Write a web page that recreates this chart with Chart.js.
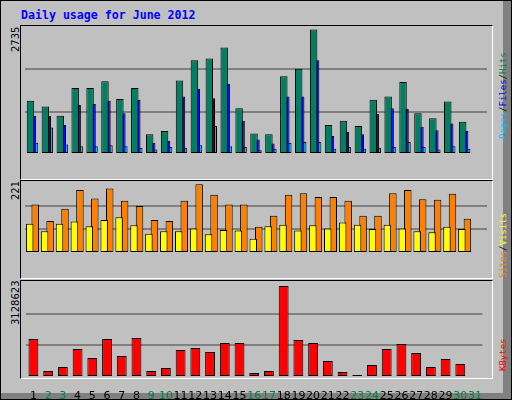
<!DOCTYPE html>
<html><head><meta charset="utf-8">
<script src="https://cdn.jsdelivr.net/npm/chart.js@4/dist/chart.umd.min.js"></script>
<style>
html,body{margin:0;padding:0;background:#c0c0c0;}
#wrap{position:absolute;left:0;top:0;width:510px;height:398px;border:1px solid #000;background:#c0c0c0;overflow:hidden;}
#shR{position:absolute;left:502px;top:0;width:8px;height:398px;background:#808080;}
#shB{position:absolute;left:0;top:392px;width:510px;height:6px;background:#808080;}
.panel{position:absolute;left:19px;width:471px;border-top:1px solid #000;border-left:1px solid #000;border-right:1px solid #fff;border-bottom:1px solid #fff;}
canvas{position:absolute;}
.t{position:absolute;font-family:"DejaVu Sans Mono",monospace;font-size:9px;line-height:10px;white-space:nowrap;transform-origin:0 0;transform:rotate(-90deg);}
.n{font-family:"DejaVu Sans",sans-serif;font-size:10px;line-height:11px;color:#000;}
#title{position:absolute;left:20px;top:7px;font-family:"DejaVu Sans Mono",monospace;font-weight:bold;font-size:11.6px;color:#0000ff;}
</style></head><body>
<div id="wrap">
<div id="shR"></div><div id="shB"></div>
<div id="title">Daily usage for June 2012</div>
<div class="panel" style="top:24px;height:153px"></div>
<div class="panel" style="top:179px;height:97px"></div>
<div class="panel" style="top:279px;height:97px"></div>
<canvas id="c1" style="left:24px;top:26px;width:462px;height:151px"></canvas>
<canvas id="c2" style="left:24px;top:181px;width:462px;height:95px"></canvas>
<canvas id="c3" style="left:24px;top:281px;width:462px;height:119px"></canvas>
<div class="t n" style="left:9px;top:51px">2735</div>
<div class="t n" style="left:9px;top:199px">221</div>
<div class="t n" style="left:9px;top:324px">3128623</div>
<div class="t" style="left:497px;top:138px"><span style="color:#00c0ff">Pages</span><span style="color:#000">/</span><span style="color:#0000ff">Files</span><span style="color:#000">/</span><span style="color:#008040">Hits</span></div>
<div class="t" style="left:497px;top:277px"><span style="color:#ff8000">Sites</span><span style="color:#000">/</span><span style="color:#ffff00">Visits</span></div>
<div class="t" style="left:497px;top:370px"><span style="color:#ff0000">KBytes</span></div>
</div>
<script>
const days=['1','2','3','4','5','6','7','8','9','10','11','12','13','14','15','16','17','18','19','20','21','22','23','24','25','26','27','28','29','30','31'];
const weekend=['2','3','9','10','16','17','23','24','30','31'];
const hits=[1171,1042,838,1449,1449,1597,1209,1449,432,506,1616,2060,2097,2337,1005,450,432,1708,1875,2735,635,728,617,1190,1264,1579,894,783,1153,709,0];
const files=[838,838,635,1079,1098,1171,894,1190,246,284,1264,1431,1227,1542,728,321,228,1264,1264,2060,395,487,432,876,1005,987,598,524,672,506,0];
const pages=[246,580,210,173,173,191,173,136,99,154,136,191,617,173,154,80,117,246,265,265,117,154,117,136,154,265,154,99,173,117,0];
const visits=[156,103,142,202,175,207,168,151,106,103,168,221,187,156,156,84,120,187,192,180,180,168,120,120,192,202,173,171,190,110,0];
const sites=[94,70,94,101,86,106,115,89,62,70,70,79,60,74,72,46,86,91,72,89,79,98,91,77,91,79,70,67,84,77,0];
const kbytes=[1306000,206000,344000,963000,653000,1306000,722000,1341000,206000,309000,928000,997000,860000,1169000,1169000,138000,206000,3128623,1272000,1169000,550000,172000,69000,413000,963000,1135000,825000,344000,619000,447000,0];

function opts(max,showX){
  return {responsive:false,animation:false,devicePixelRatio:1,
    layout:{padding:0},
    plugins:{legend:{display:false},tooltip:{enabled:false}},
    scales:{
      x:{type:'category',offset:true,display:showX,
        grid:{display:false},border:{display:false},
        afterFit:s=>{s.height=24;},
        ticks:{autoSkip:false,maxRotation:0,padding:5,
          font:{family:'DejaVu Sans',size:11},
          color:c=>weekend.includes(days[c.index])?'#008040':'#000'}},
      y:{min:0,max:max,display:true,afterFit:s=>{s.width=0;},
        ticks:{display:false,stepSize:max/3},border:{display:false},
        grid:{drawTicks:false,color:c=>(c.index===1||c.index===2)?'#808080':'rgba(0,0,0,0)',lineWidth:2}}
    }};
}
function ds(data,color,extra){return Object.assign({data:data,backgroundColor:color,borderColor:'#000',borderWidth:1,borderSkipped:false},extra);}
function mk(id,w,h,cfg){const c=document.getElementById(id);c.width=w;c.height=h;return new Chart(c,cfg);}

mk('c1',462,151,{type:'bar',data:{labels:days,datasets:[
  ds(hits,'#008060',{categoryPercentage:0.4,barPercentage:3.75}),
  ds(files,'#0000ff',{categoryPercentage:0.4,barPercentage:3.75}),
  ds(pages,'#00c0ff',{categoryPercentage:0.4,barPercentage:3.75})]},options:opts(2790,false)});
mk('c2',462,95,{type:'bar',data:{labels:days,datasets:[
  ds(sites,'#ffff00',{categoryPercentage:0.74,barPercentage:1.36}),
  ds(visits,'#ff8000',{categoryPercentage:0.74,barPercentage:1.36})]},options:opts(228,false)});
mk('c3',462,119,{type:'bar',data:{labels:days,datasets:[
  ds(kbytes,'#ff0000',{categoryPercentage:0.67,barPercentage:1})]},options:opts(3266000,true)});
</script>
</body></html>
